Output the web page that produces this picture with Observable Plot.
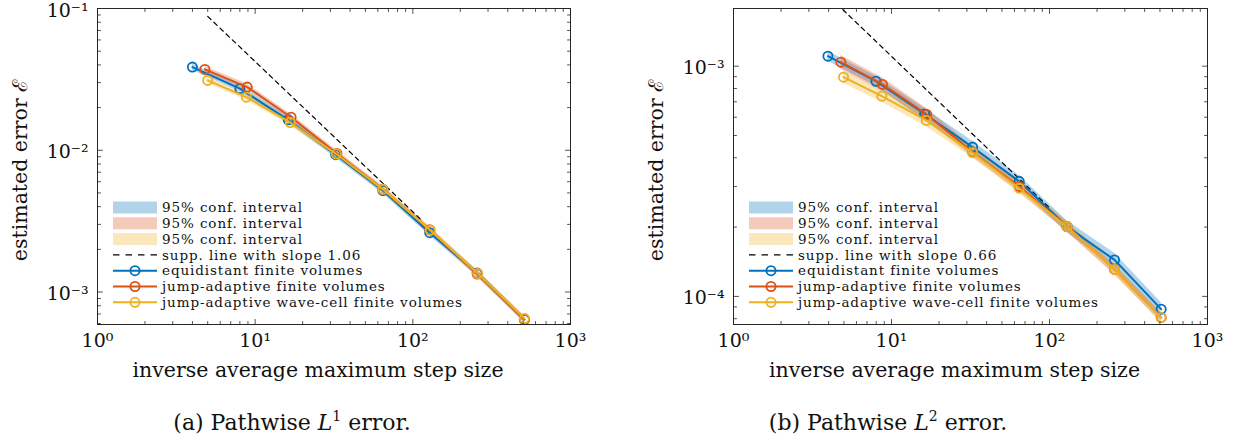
<!DOCTYPE html>
<html><head><meta charset="utf-8">
<script src="https://cdn.jsdelivr.net/npm/d3@7"></script>
<script src="https://cdn.jsdelivr.net/npm/@observablehq/plot@0.6"></script>
<style>
body{margin:0;background:#fff;}
#wrap{position:relative;width:1237px;height:440px;overflow:hidden;font-family:"DejaVu Serif",serif;color:#111;}
.panel{position:absolute;top:0;}
.cap{position:absolute;top:410px;font-family:"DejaVu Serif",serif;font-size:22px;white-space:nowrap;transform:translateX(-50%);line-height:26px;}
.cap sup{font-size:14px;vertical-align:9px;line-height:0;}
</style></head><body><div id="wrap"></div>
<script>
// ---------- data ----------
const seriesNames = ["equidistant finite volumes", "jump-adaptive finite volumes", "jump-adaptive wave-cell finite volumes"];
const seriesColors = ["#0072BD", "#D95319", "#EDB120"];
const bandLabel = "95% conf. interval";

// (a) Pathwise L1 error
const xEqL1 = [4.0, 8.0, 16.2, 32.4, 64.6, 128, 256, 510];
const yEqL1 = [0.0386, 0.0272, 0.0164, 0.0093, 0.0052, 0.00262, 0.00136, 0.00064];
const xJaL1 = [4.8, 8.9, 16.9, 33.0, 64.6, 128, 256, 510];
const yJaL1 = [0.0372, 0.0279, 0.0171, 0.0095, 0.0053, 0.00275, 0.00134, 0.00064];
const xWcL1 = [5.0, 8.8, 16.7, 32.7, 64.6, 129, 258, 510];
const yWcL1 = [0.0311, 0.0237, 0.0157, 0.0094, 0.0053, 0.00273, 0.00135, 0.00065];
const ciEqL1 = [0.05, 0.05, 0.05, 0.05, 0.05, 0.05, 0.05, 0.05];
const ciJaL1 = [0.05, 0.05, 0.05, 0.05, 0.05, 0.05, 0.05, 0.05];
const ciWcL1 = [0.05, 0.05, 0.05, 0.05, 0.05, 0.05, 0.05, 0.05];
const suppXL1 = [5.0, 114];
const suppYL1 = [0.088, 0.0032];
const suppSlopeL1 = "1.06";

// (b) Pathwise L2 error
const xEqL2 = [3.96, 7.97, 16.2, 32.6, 64.3, 129, 258, 509];
const yEqL2 = [1.105e-3, 8.6e-4, 6.2e-4, 4.45e-4, 3.16e-4, 2.01e-4, 1.44e-4, 8.8e-5];
const xJaL2 = [4.78, 8.77, 16.7, 32.6, 64.3, 129, 258, 509];
const yJaL2 = [1.04e-3, 8.33e-4, 6.17e-4, 4.24e-4, 3.0e-4, 2.01e-4, 1.31e-4, 8.1e-5];
const xWcL2 = [4.97, 8.69, 16.6, 32.6, 64.3, 129, 258, 509];
const yWcL2 = [8.96e-4, 7.41e-4, 5.81e-4, 4.21e-4, 2.95e-4, 2.01e-4, 1.31e-4, 8.1e-5];
const ciEqL2 = [0.05, 0.05, 0.06, 0.06, 0.06, 0.06, 0.07, 0.07];
const ciJaL2 = [0.07, 0.07, 0.06, 0.05, 0.05, 0.05, 0.05, 0.05];
const ciWcL2 = [0.06, 0.06, 0.06, 0.05, 0.05, 0.05, 0.05, 0.05];
const suppXL2 = [4.92, 99];
const suppYL2 = [1.76e-3, 2.44e-4];
const suppSlopeL2 = "0.66";

const xDomain = [1, 1000];
const yDomainL1 = [5.9e-4, 0.1];
const yDomainL2 = [7.55e-5, 1.78e-3];
const xLabel = "inverse average maximum step size";
const yLabel = "estimated error \u2130";

// ---------- helpers ----------
const supMap = {"0":"\u2070","1":"\u00b9","2":"\u00b2","3":"\u00b3","4":"\u2074","5":"\u2075","-":"\u207b"};
const powFmt = d => "10" + String(Math.round(Math.log10(d))).split("").map(c => supMap[c]).join("");
function logTicks([lo, hi], major) {
  const out = [];
  for (let e = Math.floor(Math.log10(lo)); e <= Math.ceil(Math.log10(hi)); e++)
    for (let m = 1; m < 10; m++) {
      const v = m * Math.pow(10, e);
      if (v >= lo * 0.999 && v <= hi * 1.001 && ((m === 1) === major)) out.push(v);
    }
  return out;
}
const tickShape = {draw(ctx, l) { ctx.moveTo(0, 0); ctx.lineTo(0, -l); }};
const axisCol = "#262626";

function tickMarks(xd, yd) {
  const marks = [];
  for (const [major, len] of [[true, 5], [false, 3]]) {
    const xt = logTicks(xd, major), yt = logTicks(yd, major);
    const common = {length: len, anchor: "start", shape: tickShape, stroke: axisCol, strokeWidth: 0.8};
    marks.push(Plot.vector(xt, {x: d => d, frameAnchor: "bottom", rotate: 0, ...common}));
    marks.push(Plot.vector(xt, {x: d => d, frameAnchor: "top", rotate: 180, ...common}));
    marks.push(Plot.vector(yt, {y: d => d, frameAnchor: "left", rotate: 90, ...common}));
    marks.push(Plot.vector(yt, {y: d => d, frameAnchor: "right", rotate: -90, ...common}));
  }
  return marks;
}

function makePanel({xs, ys, cis, suppX, suppY, slope, yDomain, width, marginLeft, marginRight}) {
  const series = xs.map((x, k) => x.map((xv, i) => ({x: xv, y: ys[k][i], lo: ys[k][i] * (1 - cis[k][i]), hi: ys[k][i] * (1 + cis[k][i])})));
  const supp = suppX.map((x, i) => ({x, y: suppY[i]}));
  const marks = [];
  series.forEach((rows, k) => marks.push(Plot.areaY(rows, {x: "x", y1: "lo", y2: "hi", fill: seriesColors[k], fillOpacity: 0.3, curve: "linear"})));
  marks.push(Plot.line(supp, {x: "x", y: "y", stroke: "#000", strokeWidth: 1.2, strokeDasharray: "4.5,4"}));
  series.forEach((rows, k) => {
    marks.push(Plot.line(rows, {x: "x", y: "y", stroke: seriesColors[k], strokeWidth: 2}));
    marks.push(Plot.dot(rows, {x: "x", y: "y", r: 4.6, stroke: seriesColors[k], strokeWidth: 1.8, fill: "none"}));
  });
  marks.push(Plot.frame({stroke: axisCol, strokeWidth: 1}));
  marks.push(...tickMarks(xDomain, yDomain));
  marks.push(Plot.axisX({ticks: logTicks(xDomain, true), tickSize: 0, tickPadding: 9, tickFormat: powFmt, fontSize: 19, label: null}));
  marks.push(Plot.axisY({ticks: logTicks(yDomain, true), tickSize: 0, tickPadding: 9, tickFormat: powFmt, fontSize: 19, label: null, dy: 2}));
  marks.push(Plot.text([xLabel], {text: d => d, frameAnchor: "bottom", textAnchor: "middle", dy: 52, dx: -16, fontSize: 20.5}));
  marks.push(Plot.text([yLabel], {text: d => d, frameAnchor: "left", textAnchor: "middle", rotate: -90, dx: -77, dy: 4, fontSize: 20.5}));
  const svg = Plot.plot({
    width, height: 390, marginLeft, marginRight, marginTop: 8, marginBottom: 66,
    x: {type: "log", domain: xDomain},
    y: {type: "log", domain: yDomain},
    style: {fontFamily: "DejaVu Serif", color: "#111", background: "transparent", overflow: "visible"},
    marks
  });
  // legend inside the axes
  const g = d3.select(svg).append("g")
    .attr("font-family", "DejaVu Serif").attr("font-size", 13.5).attr("letter-spacing", "0.9px")
    .attr("fill", "#111").attr("text-anchor", "start");
  const lx = marginLeft + 16, ly = 207.5, dyRow = 15.8, sw = 44;
  const labels = [bandLabel, bandLabel, bandLabel, "supp. line with slope " + slope, ...seriesNames];
  labels.forEach((lab, i) => {
    const cy = ly + i * dyRow;
    if (i < 3) {
      g.append("rect").attr("x", lx).attr("y", cy - 6).attr("width", sw).attr("height", 12).attr("fill", seriesColors[i]).attr("fill-opacity", 0.3);
    } else if (i === 3) {
      g.append("line").attr("x1", lx).attr("x2", lx + sw).attr("y1", cy).attr("y2", cy).attr("stroke", "#000").attr("stroke-width", 1.2).attr("stroke-dasharray", "6.5,6");
    } else {
      const c = seriesColors[i - 4];
      g.append("line").attr("x1", lx).attr("x2", lx + sw).attr("y1", cy).attr("y2", cy).attr("stroke", c).attr("stroke-width", 2);
      g.append("circle").attr("cx", lx + sw / 2).attr("cy", cy).attr("r", 4.6).attr("fill", "none").attr("stroke", c).attr("stroke-width", 1.8);
    }
    g.append("text").attr("x", lx + sw + 5).attr("y", cy).attr("dy", "0.35em").text(lab);
  });
  return svg;
}

const wrap = document.getElementById("wrap");
const left = makePanel({
  xs: [xEqL1, xJaL1, xWcL1], ys: [yEqL1, yJaL1, yWcL1], cis: [ciEqL1, ciJaL1, ciWcL1],
  suppX: suppXL1, suppY: suppYL1, slope: suppSlopeL1, yDomain: yDomainL1,
  width: 618, marginLeft: 97, marginRight: 48
});
left.classList.add("panel"); left.style.left = "0px";
wrap.appendChild(left);
const right = makePanel({
  xs: [xEqL2, xJaL2, xWcL2], ys: [yEqL2, yJaL2, yWcL2], cis: [ciEqL2, ciJaL2, ciWcL2],
  suppX: suppXL2, suppY: suppYL2, slope: suppSlopeL2, yDomain: yDomainL2,
  width: 619, marginLeft: 115, marginRight: 30
});
right.classList.add("panel"); right.style.left = "618px";
wrap.appendChild(right);

const capA = document.createElement("div"); capA.className = "cap"; capA.style.left = "292px";
capA.innerHTML = "(a) Pathwise <i>L</i><sup>1</sup> error.";
const capB = document.createElement("div"); capB.className = "cap"; capB.style.left = "888px";
capB.innerHTML = "(b) Pathwise <i>L</i><sup>2</sup> error.";
wrap.appendChild(capA); wrap.appendChild(capB);
</script></body></html>
